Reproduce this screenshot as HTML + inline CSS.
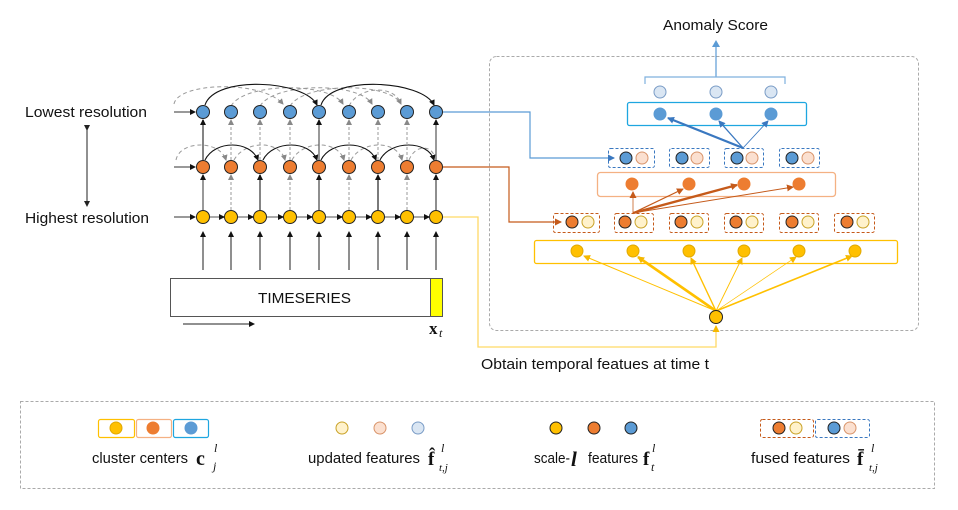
<!DOCTYPE html>
<html><head><meta charset="utf-8"><style>
html,body{margin:0;padding:0;background:#fff;}
svg{display:block;}
text{font-family:"Liberation Sans",sans-serif;fill:#111;}
.m{font-family:"Liberation Serif",serif;}
</style></head><body>
<svg width="958" height="510" viewBox="0 0 958 510" xmlns="http://www.w3.org/2000/svg">
<defs>
<marker id="ak" markerWidth="6" markerHeight="6" refX="5" refY="3" orient="auto" markerUnits="userSpaceOnUse"><path d="M0,0 L6,3 L0,6z" fill="#111"/></marker>
<marker id="ag" markerWidth="6" markerHeight="6" refX="5" refY="3" orient="auto" markerUnits="userSpaceOnUse"><path d="M0,0 L6,3 L0,6z" fill="#888"/></marker>
<marker id="ab" markerWidth="7" markerHeight="7" refX="6" refY="3.5" orient="auto" markerUnits="userSpaceOnUse"><path d="M0,0 L7,3.5 L0,7z" fill="#3a78c0"/></marker>
<marker id="ao" markerWidth="7" markerHeight="7" refX="6" refY="3.5" orient="auto" markerUnits="userSpaceOnUse"><path d="M0,0 L7,3.5 L0,7z" fill="#c55a1a"/></marker>
<marker id="ay" markerWidth="7" markerHeight="7" refX="6" refY="3.5" orient="auto" markerUnits="userSpaceOnUse"><path d="M0,0 L7,3.5 L0,7z" fill="#f5b800"/></marker>
<marker id="ad" markerWidth="6" markerHeight="6" refX="5" refY="3" orient="auto" markerUnits="userSpaceOnUse"><path d="M0,0 L6,3 L0,6z" fill="#222"/></marker>
</defs>

<!-- left labels -->
<text x="25" y="117" font-size="14.5" textLength="122" lengthAdjust="spacingAndGlyphs">Lowest resolution</text>
<text x="25" y="223" font-size="14.5" textLength="124" lengthAdjust="spacingAndGlyphs">Highest resolution</text>
<line x1="87" y1="130" x2="87" y2="206" stroke="#222" stroke-width="1" marker-start="url(#ad)" marker-end="url(#ad)"/>

<g fill="none" stroke="#999" stroke-width="1" stroke-dasharray="4,3">
<path d="M174,104 C178,82 262,80 283,104" marker-end="url(#ag)"/>
<path d="M231,106 C245,82 330,82 343,104" marker-end="url(#ag)"/>
<path d="M260,106 C275,82 360,82 372,104" marker-end="url(#ag)"/>
<path d="M290,106 C305,82 390,82 401,104" marker-end="url(#ag)"/>
<path d="M349,106 C360,85 395,85 401,104"/>
<path d="M176,160 C180,140 220,140 226,160" marker-end="url(#ag)"/>
<path d="M234,160 C245,140 280,140 285,160" marker-end="url(#ag)"/>
<path d="M292,160 C303,140 338,140 344,160" marker-end="url(#ag)"/>
<path d="M351,160 C362,140 397,140 402,160" marker-end="url(#ag)"/>
<path d="M409,160 C415,145 430,145 434,155"/>
</g>
<g fill="none" stroke="#111" stroke-width="1.1">
<path d="M205,105 C215,75 305,80 317,105" marker-end="url(#ak)"/>
<path d="M321,105 C331,75 422,80 434,105" marker-end="url(#ak)"/>
<path d="M205,160 C215,140 250,140 258,160" marker-end="url(#ak)"/>
<path d="M263,160 C273,140 310,140 317,160" marker-end="url(#ak)"/>
<path d="M321,160 C331,140 368,140 376,160" marker-end="url(#ak)"/>
<path d="M380,160 C390,140 428,140 434,160" marker-end="url(#ak)"/>
</g>

<g stroke="#333" stroke-width="1">
<line x1="174" y1="112" x2="195" y2="112" marker-end="url(#ak)"/>
<line x1="174" y1="167" x2="195" y2="167" marker-end="url(#ak)"/>
<line x1="174" y1="217" x2="195" y2="217" marker-end="url(#ak)"/>
</g>

<g stroke-width="1.2">
<line x1="203" y1="210" x2="203" y2="175" stroke="#555" marker-end="url(#ak)"/>
<line x1="231" y1="210" x2="231" y2="175" stroke="#aaa" stroke-dasharray="3,2" marker-end="url(#ag)"/>
<line x1="260" y1="210" x2="260" y2="175" stroke="#777" stroke-width="1.8" marker-end="url(#ak)"/>
<line x1="290" y1="210" x2="290" y2="175" stroke="#aaa" stroke-dasharray="3,2" marker-end="url(#ag)"/>
<line x1="319" y1="210" x2="319" y2="175" stroke="#444" marker-end="url(#ak)"/>
<line x1="349" y1="210" x2="349" y2="175" stroke="#aaa" stroke-dasharray="3,2" marker-end="url(#ag)"/>
<line x1="378" y1="210" x2="378" y2="175" stroke="#222" marker-end="url(#ak)"/>
<line x1="407" y1="210" x2="407" y2="175" stroke="#aaa" stroke-dasharray="3,2" marker-end="url(#ag)"/>
<line x1="436" y1="210" x2="436" y2="175" stroke="#444" marker-end="url(#ak)"/>
<line x1="203" y1="160" x2="203" y2="120" stroke="#777" stroke-width="1.8" marker-end="url(#ak)"/>
<line x1="231" y1="160" x2="231" y2="120" stroke="#aaa" stroke-dasharray="3,2" marker-end="url(#ag)"/>
<line x1="260" y1="160" x2="260" y2="120" stroke="#aaa" stroke-dasharray="3,2" marker-end="url(#ag)"/>
<line x1="290" y1="160" x2="290" y2="120" stroke="#aaa" stroke-dasharray="3,2" marker-end="url(#ag)"/>
<line x1="319" y1="160" x2="319" y2="120" stroke="#555" marker-end="url(#ak)"/>
<line x1="349" y1="160" x2="349" y2="120" stroke="#aaa" stroke-dasharray="3,2" marker-end="url(#ag)"/>
<line x1="378" y1="160" x2="378" y2="120" stroke="#aaa" stroke-dasharray="3,2" marker-end="url(#ag)"/>
<line x1="407" y1="160" x2="407" y2="120" stroke="#aaa" stroke-dasharray="3,2" marker-end="url(#ag)"/>
<line x1="436" y1="160" x2="436" y2="120" stroke="#555" marker-end="url(#ak)"/>
<g stroke="#aaa" stroke-width="2">
<line x1="210" y1="217" x2="224" y2="217" marker-end="url(#ak)"/>
<line x1="238" y1="217" x2="253" y2="217" marker-end="url(#ak)"/>
<line x1="267" y1="217" x2="283" y2="217" marker-end="url(#ak)"/>
<line x1="297" y1="217" x2="312" y2="217" marker-end="url(#ak)"/>
<line x1="326" y1="217" x2="342" y2="217" marker-end="url(#ak)"/>
<line x1="356" y1="217" x2="371" y2="217" marker-end="url(#ak)"/>
<line x1="385" y1="217" x2="400" y2="217" marker-end="url(#ak)"/>
<line x1="414" y1="217" x2="429" y2="217" marker-end="url(#ak)"/>
</g>
<g stroke="#333" stroke-width="1.1">
<line x1="203" y1="270" x2="203" y2="232" marker-end="url(#ak)"/>
<line x1="231" y1="270" x2="231" y2="232" marker-end="url(#ak)"/>
<line x1="260" y1="270" x2="260" y2="232" marker-end="url(#ak)"/>
<line x1="290" y1="270" x2="290" y2="232" marker-end="url(#ak)"/>
<line x1="319" y1="270" x2="319" y2="232" marker-end="url(#ak)"/>
<line x1="349" y1="270" x2="349" y2="232" marker-end="url(#ak)"/>
<line x1="378" y1="270" x2="378" y2="232" marker-end="url(#ak)"/>
<line x1="407" y1="270" x2="407" y2="232" marker-end="url(#ak)"/>
<line x1="436" y1="270" x2="436" y2="232" marker-end="url(#ak)"/>
</g>
</g>

<g stroke="#222" stroke-width="1">
<g fill="#5b9bd5">
<circle cx="203" cy="112" r="6.5"/><circle cx="231" cy="112" r="6.5"/><circle cx="260" cy="112" r="6.5"/><circle cx="290" cy="112" r="6.5"/><circle cx="319" cy="112" r="6.5"/><circle cx="349" cy="112" r="6.5"/><circle cx="378" cy="112" r="6.5"/><circle cx="407" cy="112" r="6.5"/><circle cx="436" cy="112" r="6.5"/>
</g>
<g fill="#ed7d31">
<circle cx="203" cy="167" r="6.5"/><circle cx="231" cy="167" r="6.5"/><circle cx="260" cy="167" r="6.5"/><circle cx="290" cy="167" r="6.5"/><circle cx="319" cy="167" r="6.5"/><circle cx="349" cy="167" r="6.5"/><circle cx="378" cy="167" r="6.5"/><circle cx="407" cy="167" r="6.5"/><circle cx="436" cy="167" r="6.5"/>
</g>
<g fill="#ffc000">
<circle cx="203" cy="217" r="6.5"/><circle cx="231" cy="217" r="6.5"/><circle cx="260" cy="217" r="6.5"/><circle cx="290" cy="217" r="6.5"/><circle cx="319" cy="217" r="6.5"/><circle cx="349" cy="217" r="6.5"/><circle cx="378" cy="217" r="6.5"/><circle cx="407" cy="217" r="6.5"/><circle cx="436" cy="217" r="6.5"/>
</g>
</g>

<rect x="170.5" y="278.5" width="260" height="38" fill="#fff" stroke="#555" stroke-width="1"/>
<rect x="430.5" y="278.5" width="12" height="38" fill="#ffff00" stroke="#555" stroke-width="1"/>
<text x="258" y="303" font-size="14.5" textLength="93" lengthAdjust="spacingAndGlyphs">TIMESERIES</text>
<line x1="183" y1="324" x2="254" y2="324" stroke="#222" stroke-width="1" marker-end="url(#ak)"/>
<text x="429" y="334" font-size="17" class="m" font-weight="bold">x</text><text x="439" y="337" font-size="12" class="m" font-style="italic">t</text>

<rect x="489.5" y="56.5" width="429" height="274" rx="7" fill="none" stroke="#aaa" stroke-dasharray="3,2"/>
<text x="663" y="30" font-size="14.5" textLength="105" lengthAdjust="spacingAndGlyphs">Anomaly Score</text>
<line x1="716" y1="77" x2="716" y2="43" stroke="#5b9bd5" stroke-width="1.2"/>
<path d="M712,47 L716,40 L720,47z" fill="#5b9bd5"/>
<path d="M645,84 V77 H785 V84" fill="none" stroke="#7fb0de" stroke-width="1.2"/>
<g fill="#dae6f3" stroke="#7a9cc6"><circle cx="660" cy="92" r="6"/><circle cx="716" cy="92" r="6"/><circle cx="771" cy="92" r="6"/></g>
<rect x="627.5" y="102.5" width="179" height="23" rx="2" fill="none" stroke="#1ea6e0" stroke-width="1.3"/>
<g fill="#5b9bd5" stroke="#5b9bd5"><circle cx="660" cy="114" r="6"/><circle cx="716" cy="114" r="6"/><circle cx="771" cy="114" r="6"/></g>
<line x1="743" y1="148" x2="668" y2="118" stroke="#3a78c0" stroke-width="2.2" marker-end="url(#ab)"/>
<line x1="743" y1="148" x2="719" y2="121" stroke="#3a78c0" stroke-width="1.3" marker-end="url(#ab)"/>
<line x1="743" y1="148" x2="768" y2="121" stroke="#3a78c0" stroke-width="0.9" marker-end="url(#ab)"/>

<g fill="none" stroke="#3a78c0" stroke-dasharray="3,2">
<rect x="608.5" y="148.5" width="46" height="19" rx="2"/><rect x="669.5" y="148.5" width="40" height="19" rx="2"/><rect x="724.5" y="148.5" width="39" height="19" rx="2"/><rect x="779.5" y="148.5" width="40" height="19" rx="2"/>
</g>
<g stroke="#222" fill="#5b9bd5"><circle cx="626" cy="158" r="6"/><circle cx="682" cy="158" r="6"/><circle cx="737" cy="158" r="6"/><circle cx="792" cy="158" r="6"/></g>
<g fill="#fbe0d0" stroke="#d9946a"><circle cx="642" cy="158" r="6"/><circle cx="697" cy="158" r="6"/><circle cx="752" cy="158" r="6"/><circle cx="808" cy="158" r="6"/></g>

<rect x="597.5" y="172.5" width="238" height="24" rx="3" fill="none" stroke="#f4b183" stroke-width="1.3"/>
<g fill="#ed7d31" stroke="#ed7d31"><circle cx="632" cy="184" r="6"/><circle cx="689" cy="184" r="6"/><circle cx="744" cy="184" r="6"/><circle cx="799" cy="184" r="6"/></g>
<line x1="633" y1="213" x2="633" y2="192" stroke="#d9946a" stroke-width="1.2" marker-end="url(#ao)"/>
<line x1="633" y1="213" x2="683" y2="189" stroke="#c55a1a" stroke-width="1.2" marker-end="url(#ao)"/>
<line x1="633" y1="213" x2="737" y2="185" stroke="#c55a1a" stroke-width="2.4" marker-end="url(#ao)"/>
<line x1="633" y1="213" x2="793" y2="187" stroke="#c55a1a" stroke-width="1" marker-end="url(#ao)"/>

<g fill="none" stroke="#c55a1a" stroke-dasharray="3,2">
<rect x="553.5" y="213.5" width="46" height="19" rx="2"/><rect x="614.5" y="213.5" width="39" height="19" rx="2"/><rect x="669.5" y="213.5" width="39" height="19" rx="2"/><rect x="724.5" y="213.5" width="39" height="19" rx="2"/><rect x="779.5" y="213.5" width="39" height="19" rx="2"/><rect x="834.5" y="213.5" width="40" height="19" rx="2"/>
</g>
<g stroke="#222" fill="#ed7d31"><circle cx="572" cy="222" r="6"/><circle cx="625" cy="222" r="6"/><circle cx="681" cy="222" r="6"/><circle cx="736" cy="222" r="6"/><circle cx="792" cy="222" r="6"/><circle cx="847" cy="222" r="6"/></g>
<g fill="#fff2cc" stroke="#c9a227"><circle cx="588" cy="222" r="6"/><circle cx="641" cy="222" r="6"/><circle cx="697" cy="222" r="6"/><circle cx="752" cy="222" r="6"/><circle cx="808" cy="222" r="6"/><circle cx="863" cy="222" r="6"/></g>

<rect x="534.5" y="240.5" width="363" height="23" rx="2" fill="none" stroke="#ffc000" stroke-width="1.3"/>
<g fill="#ffc000" stroke="#e0a800"><circle cx="577" cy="251" r="6"/><circle cx="633" cy="251" r="6"/><circle cx="689" cy="251" r="6"/><circle cx="744" cy="251" r="6"/><circle cx="799" cy="251" r="6"/><circle cx="855" cy="251" r="6"/></g>
<g stroke="#ffc000">
<line x1="716" y1="311" x2="584" y2="256" stroke-width="1" marker-end="url(#ay)"/>
<line x1="716" y1="311" x2="638" y2="257" stroke-width="2.6" marker-end="url(#ay)"/>
<line x1="716" y1="311" x2="691" y2="258" stroke-width="1.4" marker-end="url(#ay)"/>
<line x1="716" y1="311" x2="742" y2="258" stroke-width="0.9" marker-end="url(#ay)"/>
<line x1="716" y1="311" x2="796" y2="257" stroke-width="0.7" marker-end="url(#ay)"/>
<line x1="716" y1="311" x2="852" y2="256" stroke-width="1.6" marker-end="url(#ay)"/>
</g>
<circle cx="716" cy="317" r="6.5" fill="#ffc000" stroke="#222"/>

<path d="M443,112 H530 V158 H614" fill="none" stroke="#5b9bd5" stroke-width="1.2" marker-end="url(#ab)"/>
<path d="M443,167 H509 V222 H561" fill="none" stroke="#c55a1a" stroke-width="1.2" marker-end="url(#ao)"/>
<path d="M443,217 H478 V347 H716 V326" fill="none" stroke="#ffd966" stroke-width="1.3" marker-end="url(#ay)"/>
<text x="481" y="369" font-size="14.5" textLength="228" lengthAdjust="spacingAndGlyphs">Obtain temporal featues at time t</text>

<!-- legend -->
<rect x="20.5" y="401.5" width="914" height="87" fill="none" stroke="#aaa" stroke-dasharray="3,2"/>
<rect x="98.5" y="419.5" width="36" height="18" rx="2" fill="none" stroke="#ffc000" stroke-width="1.2"/>
<rect x="136.5" y="419.5" width="35" height="18" rx="2" fill="none" stroke="#f4b183" stroke-width="1.2"/>
<rect x="173.5" y="419.5" width="35" height="18" rx="2" fill="none" stroke="#1ea6e0" stroke-width="1.2"/>
<circle cx="116" cy="428" r="6" fill="#ffc000" stroke="#e0a800"/>
<circle cx="153" cy="428" r="6" fill="#ed7d31" stroke="#ed7d31"/>
<circle cx="191" cy="428" r="6" fill="#5b9bd5" stroke="#5b9bd5"/>
<text x="92" y="463" font-size="14.5" textLength="96" lengthAdjust="spacingAndGlyphs">cluster centers</text>
<text x="196" y="465" font-size="20" class="m" font-weight="bold">c</text><text x="214" y="452" font-size="12" class="m" font-style="italic">l</text><text x="213" y="470" font-size="12" class="m" font-style="italic">j</text>

<circle cx="342" cy="428" r="6" fill="#fff2cc" stroke="#c9a227"/>
<circle cx="380" cy="428" r="6" fill="#fbe0d0" stroke="#d9946a"/>
<circle cx="418" cy="428" r="6" fill="#dae6f3" stroke="#7a9cc6"/>
<text x="308" y="463" font-size="14.5" textLength="112" lengthAdjust="spacingAndGlyphs">updated features</text>
<text x="428" y="465" font-size="19" class="m" font-weight="bold">f̂</text><text x="441" y="452" font-size="12" class="m" font-style="italic">l</text><text x="439" y="471" font-size="11" class="m" font-style="italic">t,j</text>

<circle cx="556" cy="428" r="6" fill="#ffc000" stroke="#222"/>
<circle cx="594" cy="428" r="6" fill="#ed7d31" stroke="#222"/>
<circle cx="631" cy="428" r="6" fill="#5b9bd5" stroke="#222"/>
<text x="534" y="463" font-size="14.5" textLength="36" lengthAdjust="spacingAndGlyphs">scale-</text><text x="571" y="466" font-size="21" class="m" font-style="italic" font-weight="bold">l</text><text x="588" y="463" font-size="14.5" textLength="50" lengthAdjust="spacingAndGlyphs">features</text>
<text x="643" y="465" font-size="19" class="m" font-weight="bold">f</text><text x="652" y="452" font-size="12" class="m" font-style="italic">l</text><text x="651" y="471" font-size="12" class="m" font-style="italic">t</text>

<rect x="760.5" y="419.5" width="53" height="18" rx="2" fill="none" stroke="#c55a1a" stroke-dasharray="3,2"/>
<rect x="815.5" y="419.5" width="54" height="18" rx="2" fill="none" stroke="#3a78c0" stroke-dasharray="3,2"/>
<circle cx="779" cy="428" r="6" fill="#ed7d31" stroke="#222"/>
<circle cx="796" cy="428" r="6" fill="#fff2cc" stroke="#c9a227"/>
<circle cx="834" cy="428" r="6" fill="#5b9bd5" stroke="#222"/>
<circle cx="850" cy="428" r="6" fill="#fbe0d0" stroke="#d9946a"/>
<text x="751" y="463" font-size="14.5" textLength="99" lengthAdjust="spacingAndGlyphs">fused features</text>
<text x="857" y="465" font-size="19" class="m" font-weight="bold">f̄</text><text x="871" y="452" font-size="12" class="m" font-style="italic">l</text><text x="869" y="471" font-size="11" class="m" font-style="italic">t,j</text>
</svg>
</body></html>
